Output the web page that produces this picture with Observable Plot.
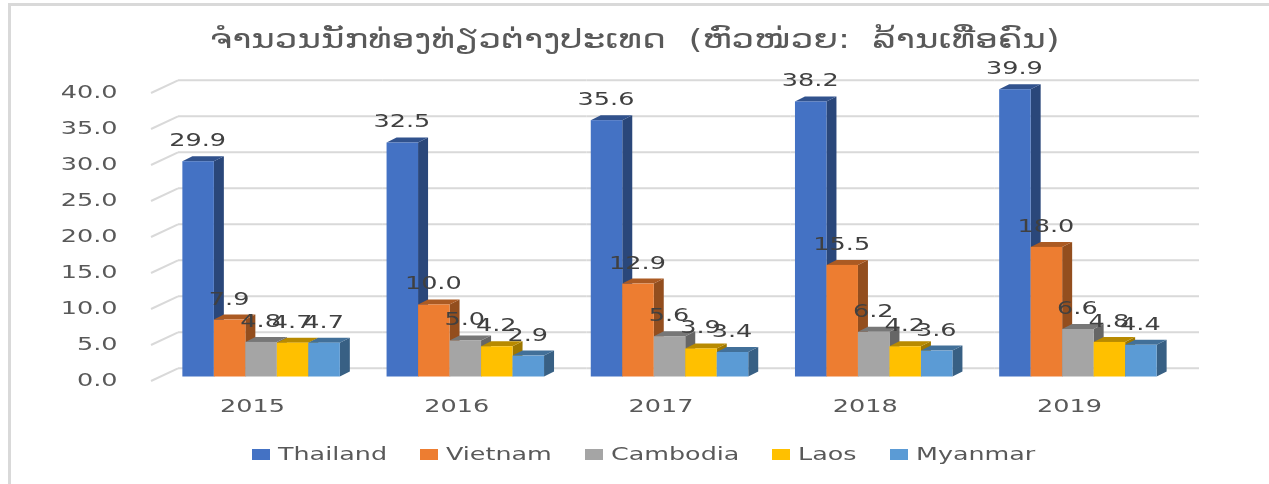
<!DOCTYPE html>
<html><head><meta charset="utf-8">
<script src="https://cdn.jsdelivr.net/npm/d3@7"></script>
<script src="https://cdn.jsdelivr.net/npm/@observablehq/plot@0.6"></script>
<style>
html,body{margin:0;background:#fff;overflow:hidden}
#page{position:relative;width:1269px;height:484px;overflow:hidden;font-family:"DejaVu Sans",sans-serif;filter:blur(0.55px)}
#edge{position:absolute;left:8px;top:3px;width:1258px;height:500px;border:3px solid #d9d9d9;box-sizing:content-box}
#title{position:absolute;left:0;top:19px;width:1269px;height:40px;text-align:center;font-size:27px;line-height:40px;color:#595959;white-space:pre}
#title span{display:inline-block;transform-origin:center}
#plot{position:absolute;left:0;top:55px}
#legend{position:absolute;left:252px;top:441px;display:flex;gap:33px;font-size:18px;line-height:26px;color:#595959}
.it{display:flex;align-items:center}
.sw{width:18px;height:11px;margin-right:8px;flex:none}
.tx{display:inline-block;transform-origin:left center;white-space:pre}
svg text{font-family:"DejaVu Sans",sans-serif}
</style></head><body>
<div id="page"><div id="edge"></div><div id="title"><span>ຈຳນວນນັກທ່ອງທ່ຽວຕ່າງປະເທດ  (ຫົວໜ່ວຍ:  ລ້ານເທື່ອຄົນ)</span></div><div id="plot"></div><div id="legend"></div></div>
<script>
const years = ["2015","2016","2017","2018","2019"];
const seriesNames = ["Thailand","Vietnam","Cambodia","Laos","Myanmar"];
const thailand = [29.9,32.5,35.6,38.2,39.9];
const vietnam = [7.9,10.0,12.9,15.5,18.0];
const cambodia = [4.8,5.0,5.6,6.2,6.6];
const laos = [4.7,4.2,3.9,4.2,4.8];
const myanmar = [4.7,2.9,3.4,3.6,4.4];
const seriesColors = ["#4472c4","#ed7d31","#a5a5a5","#ffc000","#5b9bd5"];
const gridTicks = [0,5,10,15,20,25,30,35,40];

const columns = [thailand,vietnam,cambodia,laos,myanmar];
const rows = years.flatMap((year,i)=>seriesNames.map((series,j)=>({year,series,value:columns[j][i]})));

const STRETCH = 1.38, LEGEND_STRETCH = 1.41, DX = 10, DY = 5, GROUP = 8;
const shade = (c,k)=>{const r=d3.rgb(c);return d3.rgb(r.r*k,r.g*k,r.b*k).formatHex();};
const NS = "http://www.w3.org/2000/svg";
function poly(parent,before,pts,fill){
  const p=document.createElementNS(NS,"polygon");
  p.setAttribute("points",pts.map(q=>q.join(",")).join(" "));
  p.setAttribute("fill",fill);
  parent.insertBefore(p,before);
}
function bars3d(index,scales,values,dims,ctx,next){
  const g=next(index,scales,values,dims,ctx);
  g.querySelectorAll("rect").forEach(r=>{
    const x=+r.getAttribute("x"),y=+r.getAttribute("y"),w=+r.getAttribute("width"),h=+r.getAttribute("height");
    const c=r.getAttribute("fill");
    poly(r.parentNode,r,[[x+w,y],[x+w+DX,y-DY],[x+w+DX,y+h-DY],[x+w,y+h]],shade(c,0.62));
    poly(r.parentNode,r,[[x,y],[x+DX,y-DY],[x+w+DX,y-DY],[x+w,y]],shade(c,0.72));
  });
  return g;
}
function diagonals(index,scales,values,dims,ctx,next){
  const g=next(index,scales,values,dims,ctx);
  g.querySelectorAll("line").forEach(l=>{
    const y=+l.getAttribute("y1");
    const x=+l.getAttribute("x1");
    l.setAttribute("x2",x+27);
    l.setAttribute("y1",y+4);
    l.setAttribute("y2",y-8.7);
  });
  return g;
}

const chart = Plot.plot({
  width:1269,height:375,
  marginLeft:151,marginRight:97,marginTop:33.5,marginBottom:53.5,
  style:{background:"transparent",overflow:"visible"},
  fx:{domain:years,padding:0,round:false,axis:null},
  x:{domain:seriesNames,paddingInner:0,paddingOuter:0.742,round:false,axis:null},
  y:{domain:[0,40],axis:null},
  color:{domain:seriesNames,range:seriesColors},
  marks:[
    Plot.ruleY(gridTicks,{stroke:"#d9d9d9",strokeWidth:2,dx:27,dy:-8.7}),
    Plot.ruleY(gridTicks.map(v=>({v,year:years[0]})),{y:"v",fx:"year",stroke:"#d9d9d9",strokeWidth:2,render:diagonals}),
    Plot.axisY({ticks:gridTicks,tickFormat:".1f",tickSize:0,tickPadding:34,label:null,fontSize:18.5,fill:"#595959",dy:3}),
    Plot.axisFx({anchor:"bottom",tickSize:0,tickPadding:22,label:null,fontSize:18.5,fill:"#595959",dx:-1}),
    Plot.barY(rows,{fx:"year",x:"series",y:"value",fill:"series",dx:GROUP,inset:0,render:bars3d}),
    Plot.text(rows,{fx:"year",x:"series",y:"value",text:d=>d.value.toFixed(1),dx:GROUP-1,dy:-21.5,fontSize:18.5,fill:"#404040"})
  ]
});
document.getElementById("plot").append(chart);
chart.querySelectorAll("text").forEach(t=>{
  const n=t.getComputedTextLength();
  t.setAttribute("textLength",n*STRETCH);
  t.setAttribute("lengthAdjust","spacingAndGlyphs");
});

const legend=document.getElementById("legend");
const col=chart.scale("color");
seriesNames.forEach(s=>{
  const it=document.createElement("div");it.className="it";
  const sw=document.createElement("div");sw.className="sw";sw.style.background=col.apply(s);
  const tx=document.createElement("span");tx.className="tx";tx.textContent=s;
  it.append(sw,tx);legend.append(it);
  const w=tx.getBoundingClientRect().width;
  tx.style.width=(w*LEGEND_STRETCH)+"px";
  tx.innerHTML="";
  const inner=document.createElement("span");inner.textContent=s;
  inner.style.cssText="display:inline-block;transform-origin:left center;transform:scaleX("+LEGEND_STRETCH+")";
  tx.append(inner);
});
const ts=document.querySelector("#title span");
const tw=ts.getBoundingClientRect().width;
ts.style.transform="scaleX("+(850/tw)+")";
</script>
</body></html>
